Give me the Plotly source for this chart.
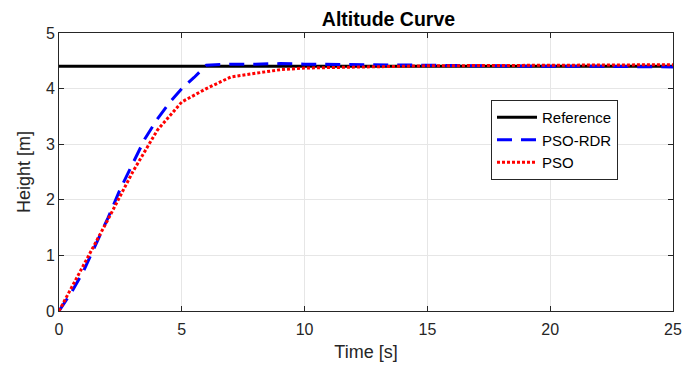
import plotly.graph_objects as go

t_ref = [0, 25]
y_ref = [4.4, 4.4]

t_rdr = [0, 0.5, 1.0, 1.5, 2.0, 2.5, 3.0, 3.5, 4.0, 4.5, 5.0, 5.5, 6.0, 6.5, 7, 8, 9, 10, 12, 14, 16, 18, 20, 22, 24, 25]
y_rdr = [0, 0.33, 0.72, 1.2, 1.68, 2.2, 2.65, 3.1, 3.45, 3.75, 4.0, 4.2, 4.42, 4.43, 4.44, 4.44, 4.45, 4.44, 4.43, 4.42, 4.41, 4.41, 4.40, 4.40, 4.39, 4.39]

t_pso = [0, 1, 2, 3, 4, 5, 6, 7, 8, 9, 10, 12, 15, 20, 25]
y_pso = [0, 0.82, 1.65, 2.5, 3.25, 3.76, 4.0, 4.21, 4.28, 4.34, 4.37, 4.39, 4.41, 4.42, 4.43]

x_ticks = [0, 5, 10, 15, 20, 25]
y_ticks = [0, 1, 2, 3, 4, 5]

FONT = "Liberation Sans, Arial"
W, H = 682, 367
L, T, R, B = 59, 33, 9, 56

fig = go.Figure()
fig.add_trace(go.Scatter(x=t_ref, y=y_ref, mode="lines", name="Reference",
                         line=dict(color="black", width=3)))
fig.add_trace(go.Scatter(x=t_rdr, y=y_rdr, mode="lines", name="PSO-RDR",
                         line=dict(color="#0000ff", width=3, dash="15px,9px")))
fig.add_trace(go.Scatter(x=t_pso, y=y_pso, mode="lines", name="PSO",
                         line=dict(color="#ff0000", width=3, dash="3px,2px")))

axis_common = dict(showline=True, linecolor="#262626", linewidth=1, mirror="ticks",
                   ticks="inside", ticklen=5, tickcolor="#262626", automargin=False,
                   ticklabeloverflow="allow",
                   showgrid=True, gridcolor="#e6e6e6", gridwidth=1, zeroline=False,
                   tickfont=dict(family=FONT, size=16, color="#262626"))

pw = W - L - R
ph = H - T - B

fig.update_layout(
    width=W, height=H,
    margin=dict(l=L, r=R, t=T, b=B),
    paper_bgcolor="white", plot_bgcolor="white",
    title=dict(text="<b>Altitude Curve</b>", x=(L + pw / 2) / W, xanchor="center", xref="paper",
               y=1 - 19 / H, yref="container", yanchor="middle",
               font=dict(family=FONT, size=19.5, color="black")),
    xaxis=dict(range=[0, 25], tickvals=x_ticks, ticklabelstandoff=4,
               title=dict(text="Time [s]", standoff=8,
                          font=dict(family=FONT, size=18, color="#262626")),
               **axis_common),
    yaxis=dict(range=[0, 5], tickvals=y_ticks,
               title=dict(text="Height [m]", standoff=10,
                          font=dict(family=FONT, size=18, color="#262626")),
               **axis_common),
    legend=dict(x=(491 - L) / pw, y=(H - B - 100) / ph, xanchor="left", yanchor="top",
                bgcolor="white", bordercolor="#262626", borderwidth=1,
                font=dict(family=FONT, size=15, color="black"),
                tracegroupgap=0, itemwidth=40),
    showlegend=True,
)

fig.write_html("out.html",
               config={"displayModeBar": False},
               post_script="document.body.style.margin='0';document.body.style.overflow='hidden';")
